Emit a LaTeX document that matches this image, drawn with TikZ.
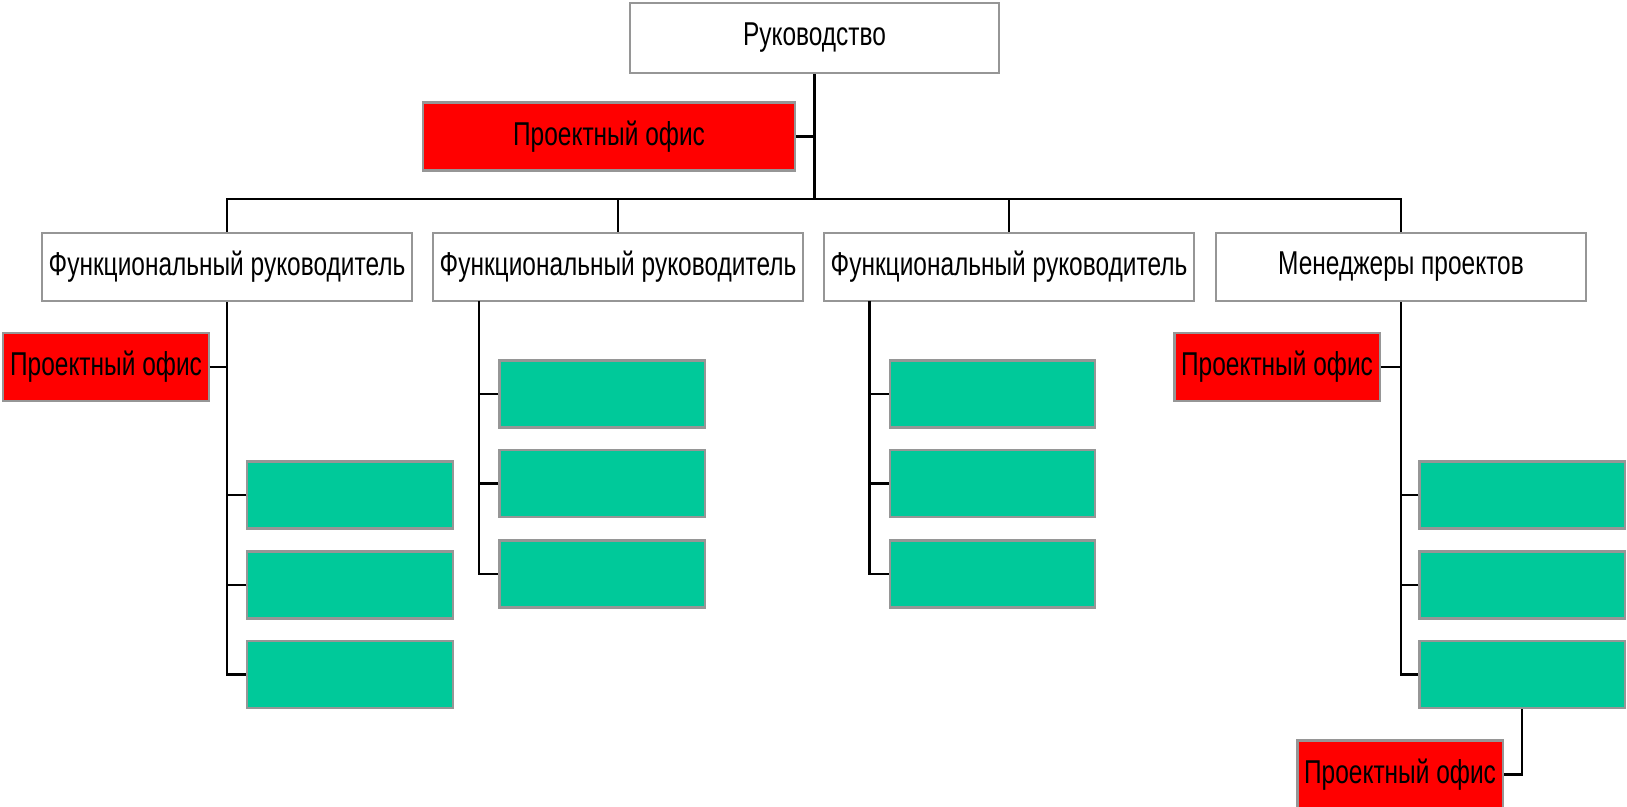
\documentclass[tikz,border=0pt]{standalone}
\usepackage{fontspec}
\setmainfont{Liberation Sans}[FakeStretch=0.74]
\usepackage{tikz}

\definecolor{officered}{RGB}{255,0,0}
\definecolor{cellgreen}{RGB}{0,201,154}
\definecolor{boxgray}{RGB}{150,150,150}

\begin{document}
\begin{tikzpicture}[
    x=0.01cm, y=-0.01cm,
    headbox/.style={draw=boxgray, line width=0.6pt, fill=white, minimum width=3.69cm, minimum height=0.68cm, inner sep=0pt},
    redbox/.style={draw=boxgray, line width=0.6pt, fill=officered, minimum width=2.05cm, minimum height=0.68cm, inner sep=0pt},
    greenbox/.style={draw=boxgray, line width=0.6pt, fill=cellgreen, minimum width=2.05cm, minimum height=0.67cm, inner sep=0pt},
    link/.style={draw=black, line width=0.7pt},
    font=\fontsize{9.4}{11}\selectfont
]
    \fill[white] (0,0) rectangle (1627,807);
    \useasboundingbox (0,0) rectangle (1627,807);

    % верхний уровень
    \node[headbox, minimum height=0.70cm] (TOP) at (814.5, 38) {Руководство};
    \node[redbox, minimum width=3.72cm] (PO0) at (609, 136.5) {Проектный офис};
    \coordinate (BUS) at (814.5, 199);   % общая шина

    % второй уровень
    \node[headbox] (FR1) at (227, 267)  {Функциональный руководитель};
    \node[headbox] (FR2) at (618, 267)  {Функциональный руководитель};
    \node[headbox] (FR3) at (1009, 267) {Функциональный руководитель};
    \node[headbox] (MP)  at (1401, 267) {Менеджеры проектов};

    % ветка 1
    \node[redbox] (PO1) at (106, 367) {Проектный офис};
    \node[greenbox] (G11) at (350, 495)   {};
    \node[greenbox] (G12) at (350, 585)   {};
    \node[greenbox] (G13) at (350, 674.5) {};

    % ветка 2
    \coordinate (T2) at (479, 301);
    \node[greenbox] (G21) at (602, 394)   {};
    \node[greenbox] (G22) at (602, 483.5) {};
    \node[greenbox] (G23) at (602, 574)   {};

    % ветка 3
    \coordinate (T3) at (869.5, 301);
    \node[greenbox] (G31) at (992.5, 394)   {};
    \node[greenbox] (G32) at (992.5, 483.5) {};
    \node[greenbox] (G33) at (992.5, 574)   {};

    % ветка 4
    \node[redbox] (PO2) at (1277, 367) {Проектный офис};
    \node[greenbox] (G41) at (1522, 495)   {};
    \node[greenbox] (G42) at (1522, 585)   {};
    \node[greenbox] (G43) at (1522, 674.5) {};
    \node[redbox] (PO3) at (1400, 774.5) {Проектный офис};

    % 1. связи верхнего уровня
    \draw[link] (TOP.south) -- (BUS);
    \draw[link] (PO0.east) -- (PO0.east -| TOP.south);
    \draw[link] (FR1.north) |- (BUS) -| (MP.north);
    \draw[link] (FR2.north) -- (FR2.north |- BUS);
    \draw[link] (FR3.north) -- (FR3.north |- BUS);

    % 2. ветка 1
    \draw[link] (FR1.south) |- (G13.west);
    \draw[link] (PO1.east) -- (PO1.east -| FR1.south);
    \draw[link] (G11.west) -- (G11.west -| FR1.south);
    \draw[link] (G12.west) -- (G12.west -| FR1.south);

    % 3. ветка 2
    \draw[link] (T2) |- (G23.west);
    \draw[link] (G21.west) -- (G21.west -| T2);
    \draw[link] (G22.west) -- (G22.west -| T2);

    % 4. ветка 3
    \draw[link] (T3) |- (G33.west);
    \draw[link] (G31.west) -- (G31.west -| T3);
    \draw[link] (G32.west) -- (G32.west -| T3);

    % 5. ветка 4
    \draw[link] (MP.south) |- (G43.west);
    \draw[link] (PO2.east) -- (PO2.east -| MP.south);
    \draw[link] (G41.west) -- (G41.west -| MP.south);
    \draw[link] (G42.west) -- (G42.west -| MP.south);
    \draw[link] (G43.south) |- (PO3.east);

\end{tikzpicture}
\end{document}
